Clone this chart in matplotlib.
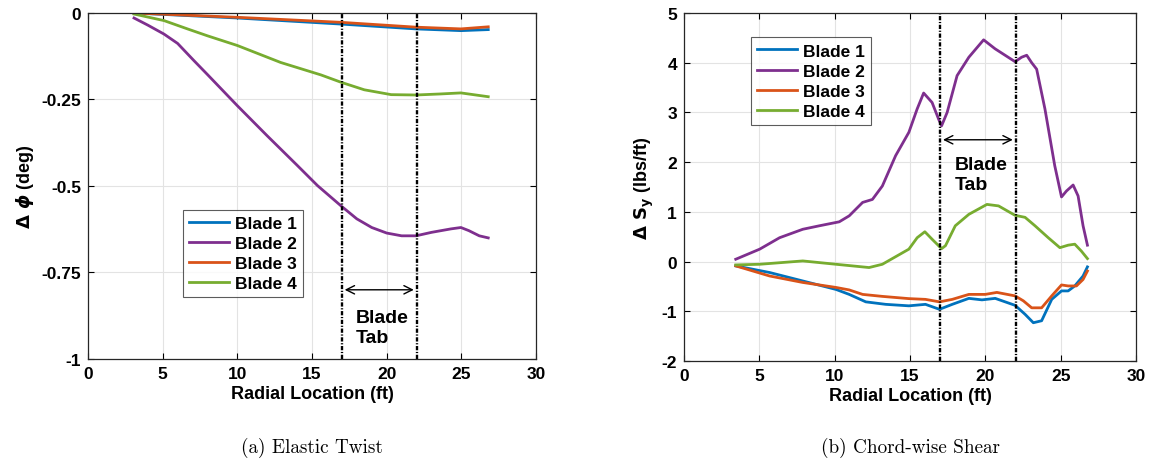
import matplotlib.pyplot as plt

plt.rcParams['font.family'] = ['Liberation Sans', 'DejaVu Sans']
plt.rcParams['font.weight'] = 'bold'
plt.rcParams['axes.unicode_minus'] = False
plt.rcParams['mathtext.fontset'] = 'dejavusans'

colors = ['#0072BD', '#7E2F8E', '#D95319', '#77AC30']
labels = ['Blade 1', 'Blade 2', 'Blade 3', 'Blade 4']

# (a) elastic twist
twist_x = {
    'Blade 1': [3.08, 10.0, 16.93, 21.96, 24.97, 26.8],
    'Blade 2': [3.08, 4.0, 5.09, 6.0, 7.1, 8.0, 10.0, 12.0, 14.0, 15.37, 16.93, 18.0,
                19.0, 20.0, 21.0, 21.96, 23.0, 24.3, 24.97, 25.5, 26.2, 26.8],
    'Blade 3': [3.08, 10.0, 16.93, 21.96, 24.97, 26.8],
    'Blade 4': [3.08, 5.09, 6.66, 8.0, 10.0, 12.9, 15.6, 16.93, 18.5, 20.3, 21.96,
                23.6, 24.97, 26.8],
}
twist_y = {
    'Blade 1': [0.0, -0.0145, -0.032, -0.046, -0.051, -0.048],
    'Blade 2': [-0.0145, -0.035, -0.061, -0.088, -0.138, -0.178, -0.268, -0.355,
                -0.44, -0.499, -0.557, -0.595, -0.62, -0.636, -0.644, -0.644,
                -0.634, -0.624, -0.620, -0.629, -0.644, -0.650],
    'Blade 3': [0.0, -0.0125, -0.027, -0.041, -0.046, -0.040],
    'Blade 4': [-0.003, -0.022, -0.046, -0.066, -0.094, -0.143, -0.179, -0.2,
                -0.222, -0.236, -0.237, -0.234, -0.231, -0.242],
}

# (b) chord-wise shear
shear_x = {
    'Blade 1': [3.43, 5.68, 7.88, 10.08, 10.96, 12.06, 13.38, 14.92, 16.02, 16.95,
                17.8, 18.9, 19.77, 20.65, 21.97, 22.63, 23.18, 23.73, 24.4, 25.05,
                25.49, 25.93, 26.48, 26.77],
    'Blade 2': [3.43, 5.02, 6.34, 7.88, 8.98, 10.3, 10.96, 11.85, 12.5, 13.16, 14.04,
                14.92, 15.47, 15.9, 16.46, 16.9, 17.09, 17.46, 18.12, 18.9, 19.88,
                20.64, 21.97, 22.4, 22.74, 23.07, 23.4, 23.95, 24.6, 25.05, 25.38,
                25.82, 26.15, 26.48, 26.77],
    'Blade 3': [3.43, 5.68, 7.88, 10.08, 10.96, 11.85, 13.16, 14.92, 16.02, 16.95,
                17.8, 18.9, 19.99, 20.76, 21.97, 22.52, 23.07, 23.73, 24.4, 25.05,
                25.49, 26.04, 26.48, 26.77],
    'Blade 4': [3.43, 5.02, 7.88, 10.08, 12.28, 13.16, 14.92, 15.47, 15.98, 16.46,
                17.09, 17.35, 18.0, 18.9, 20.1, 20.87, 21.97, 22.63, 23.29, 24.17,
                24.94, 25.49, 25.93, 26.37, 26.77],
}
shear_y = {
    'Blade 1': [-0.087, -0.22, -0.39, -0.56, -0.66, -0.81, -0.86, -0.89, -0.86, -0.96,
                -0.86, -0.74, -0.77, -0.74, -0.88, -1.06, -1.23, -1.19, -0.76, -0.59,
                -0.59, -0.49, -0.29, -0.107],
    'Blade 2': [0.047, 0.25, 0.48, 0.65, 0.72, 0.80, 0.92, 1.19, 1.25, 1.52, 2.13,
                2.6, 3.07, 3.39, 3.20, 2.86, 2.73, 3.0, 3.74, 4.11, 4.46, 4.28, 4.02,
                4.11, 4.15, 4.0, 3.87, 3.07, 1.93, 1.30, 1.42, 1.54, 1.32, 0.72, 0.33],
    'Blade 3': [-0.087, -0.29, -0.42, -0.52, -0.57, -0.66, -0.70, -0.745, -0.76, -0.81,
                -0.76, -0.66, -0.66, -0.62, -0.69, -0.79, -0.93, -0.93, -0.69, -0.47,
                -0.49, -0.49, -0.36, -0.19],
    'Blade 4': [-0.067, -0.054, 0.013, -0.054, -0.12, -0.054, 0.25, 0.48, 0.60, 0.45,
                0.26, 0.32, 0.72, 0.95, 1.15, 1.12, 0.93, 0.89, 0.72, 0.48, 0.28,
                0.33, 0.35, 0.21, 0.06],
}

tab_start, tab_end = 17, 22

fig = plt.figure(figsize=(11.52, 4.6), dpi=100)
ax1 = fig.add_axes([0.0764, 0.2174, 0.3889, 0.7522])
ax2 = fig.add_axes([0.5938, 0.2130, 0.3924, 0.7566])


def style_axis(ax):
    ax.grid(True, color='#e3e3e3', linewidth=0.8)
    ax.set_axisbelow(True)
    ax.tick_params(direction='in', top=True, right=True, labelsize=12.5,
                   length=4, width=0.8, pad=5)
    for s in ax.spines.values():
        s.set_linewidth(0.9)
        s.set_color('#262626')
    ax.set_xlim(0, 30)
    ax.set_xticks(range(0, 31, 5))
    ax.set_xlabel('Radial Location (ft)', fontsize=13, fontweight='bold', labelpad=3)


def tab_marks(ax, y_arrow, y_text):
    for xv in (tab_start, tab_end):
        ax.axvline(xv, color='black', linestyle=(0, (1.8, 0.7, 0.5, 0.7)),
                   linewidth=1.7)
    ax.annotate('', xy=(tab_start, y_arrow), xytext=(tab_end, y_arrow),
                arrowprops=dict(arrowstyle='<->', color='black', lw=1.0,
                                mutation_scale=15))
    ax.text(17.95, y_text, 'Blade\nTab', fontsize=14, fontweight='bold',
            ha='left', va='top', linespacing=1.25)


def add_legend(ax, anchor):
    leg = ax.legend(loc='upper left', bbox_to_anchor=anchor, fontsize=12.5,
                    frameon=True, fancybox=False, edgecolor='#333333',
                    handlelength=2.3, handletextpad=0.35, labelspacing=0.28,
                    borderpad=0.35, borderaxespad=0)
    leg.get_frame().set_linewidth(0.8)


# panel (a)
for lab, c in zip(labels, colors):
    ax1.plot(twist_x[lab], twist_y[lab], color=c, linewidth=2, label=lab)
style_axis(ax1)
ax1.set_ylim(-1, 0)
ax1.set_yticks([0, -0.25, -0.5, -0.75, -1])
ax1.set_yticklabels(['0', '-0.25', '-0.5', '-0.75', '-1'])
ax1.set_ylabel(r'$\Delta\ \phi$ (deg)', fontsize=13, fontweight='bold', labelpad=4)
tab_marks(ax1, -0.8, -0.855)
add_legend(ax1, (0.212, 0.432))

# panel (b)
for lab, c in zip(labels, colors):
    ax2.plot(shear_x[lab], shear_y[lab], color=c, linewidth=2, label=lab)
style_axis(ax2)
ax2.set_ylim(-2, 5)
ax2.set_yticks(range(-2, 6))
ax2.set_ylabel(r'$\Delta\ \mathbf{S_y}$ (lbs/ft)', fontsize=13, fontweight='bold',
               labelpad=4)
tab_marks(ax2, 2.45, 2.12)
add_legend(ax2, (0.149, 0.93))

fig.text(0.271, 0.027, '(a) Elastic Twist', fontsize=13.8, fontfamily='cmr10',
         fontweight='normal', ha='center', va='center')
fig.text(0.79, 0.027, '(b) Chord-wise Shear', fontsize=13.8, fontfamily='cmr10',
         fontweight='normal', ha='center', va='center')

fig.savefig('out.png', dpi=100)
